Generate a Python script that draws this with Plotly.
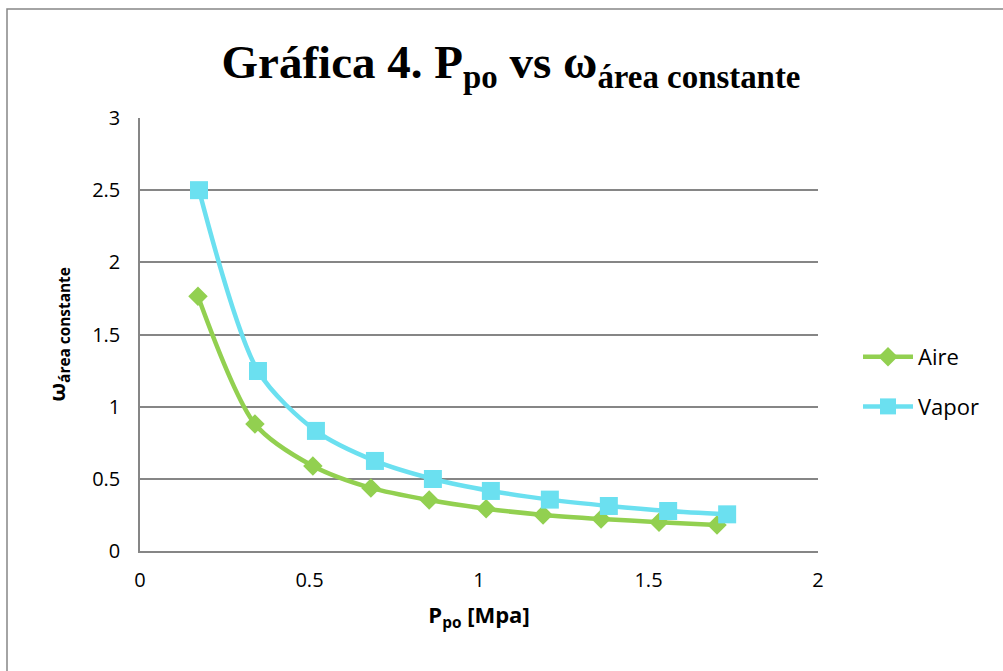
import plotly.graph_objects as go

aire_x = [0.171, 0.339, 0.510, 0.681, 0.853, 1.021, 1.189, 1.360, 1.531, 1.702]
aire_y = [1.765, 0.880, 0.589, 0.437, 0.353, 0.293, 0.250, 0.222, 0.200, 0.180]
vapor_x = [0.174, 0.348, 0.519, 0.693, 0.864, 1.035, 1.209, 1.383, 1.558, 1.732]
vapor_y = [2.500, 1.247, 0.832, 0.624, 0.499, 0.416, 0.356, 0.312, 0.277, 0.254]
x_ticks = [0, 0.5, 1, 1.5, 2]
x_labels = ["0", "0.5", "1", "1.5", "2"]
y_ticks = [0, 0.5, 1, 1.5, 2, 2.5, 3]
y_labels = ["0", "0.5", "1", "1.5", "2", "2.5", "3"]

GREEN = "#92D050"
CYAN = "#6BE0F0"
FONT = "Open Sans"

fig = go.Figure()
fig.add_trace(go.Scatter(
    x=aire_x, y=aire_y, name="Aire", mode="lines+markers", legendgroup="a",
    line=dict(color=GREEN, width=4.5, shape="spline", smoothing=0.8),
    marker=dict(symbol="diamond", size=15, color=GREEN),
))
fig.add_trace(go.Scatter(
    x=vapor_x, y=vapor_y, name="Vapor", mode="lines+markers", legendgroup="b",
    line=dict(color=CYAN, width=4.5, shape="spline", smoothing=0.8),
    marker=dict(symbol="square", size=18, color=CYAN),
))

W, H = 1003, 671
L, R, T, B = 140, 818, 118, 551
pw, ph = R - L, B - T

fig.add_shape(type="rect", xref="paper", yref="paper",
              x0=(7 - L) / pw, x1=(W + 20 - L) / pw,
              y0=(B - (H + 20)) / ph, y1=(B - 9) / ph,
              line=dict(color="#868686", width=1.5), fillcolor="rgba(0,0,0,0)", layer="below")

fig.update_layout(
    width=W, height=H,
    margin=dict(l=L, r=W - R, t=T, b=H - B),
    paper_bgcolor="white", plot_bgcolor="white",
    font=dict(family=FONT, color="black", size=20),
    title=dict(
        text="<b>Gráfica 4. P<sub>po</sub> vs ω<sub>área constante</sub></b>",
        font=dict(family="Liberation Serif", size=47, color="black"),
        x=511 / W, xanchor="center", y=1 - 62 / H, yanchor="middle",
    ),
    xaxis=dict(
        range=[0, 2], tickvals=x_ticks, ticktext=x_labels,
        showgrid=False, zeroline=False, showline=True,
        linecolor="#868686", linewidth=1.5,
        ticks="outside", ticklen=10, tickcolor="rgba(0,0,0,0)",
        tickfont=dict(size=20, family=FONT),
        title=dict(text="<b>P<sub>po</sub> [Mpa]</b>", font=dict(size=22, family=FONT), standoff=16),
    ),
    yaxis=dict(
        range=[0, 3], tickvals=y_ticks, ticktext=y_labels,
        showgrid=True, gridcolor="#868686", gridwidth=1.5,
        zeroline=False, showline=True, linecolor="#868686", linewidth=1.5,
        ticks="outside", ticklen=14, tickcolor="rgba(0,0,0,0)",
        tickfont=dict(size=20, family=FONT),
        title=dict(text="<b>ω<sub>área constante</sub></b>", font=dict(size=22, family=FONT), standoff=20),
    ),
    legend=dict(
        x=(858 - L) / pw, xanchor="left", y=(B - 382) / ph, yanchor="middle",
        font=dict(size=22, family=FONT), bgcolor="rgba(0,0,0,0)",
        tracegroupgap=18, itemwidth=50,
    ),
    showlegend=True,
)

fig.write_html("out.html", config={"displayModeBar": False},
               post_script="document.body.style.margin='0px';")
